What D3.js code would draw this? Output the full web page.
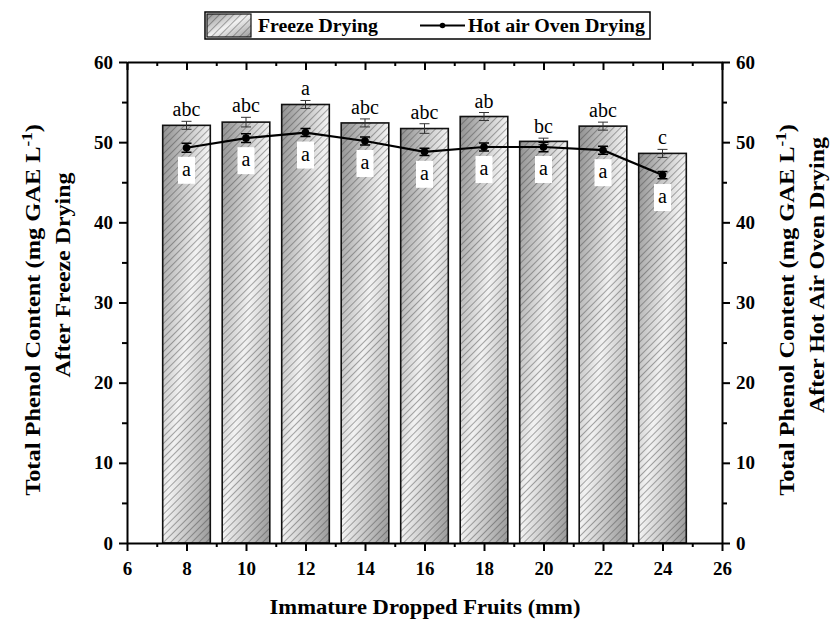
<!DOCTYPE html>
<html>
<head>
<meta charset="utf-8">
<script src="https://cdn.jsdelivr.net/npm/d3@7"></script>
<style>
  body { margin: 0; background: #fff; }
  text { font-family: "Liberation Serif", "Times New Roman", serif; }
</style>
</head>
<body>
<div id="chart"></div>
<script>
// fruit size (mm)
var sizes = [8, 10, 12, 14, 16, 18, 20, 22, 24];
// freeze drying bars
var freezeVals = [52.1, 52.5, 54.7, 52.4, 51.7, 53.2, 50.1, 52.0, 48.6];
var freezeErr = [0.5, 0.6, 0.5, 0.5, 0.6, 0.5, 0.4, 0.5, 0.5];
var freezeLetters = ["abc", "abc", "a", "abc", "abc", "ab", "bc", "abc", "c"];
// hot air oven drying line
var ovenVals = [49.3, 50.5, 51.2, 50.15, 48.8, 49.4, 49.4, 49.0, 45.9];
var ovenErr = [0.55, 0.55, 0.5, 0.5, 0.45, 0.5, 0.6, 0.5, 0.45];
var ovenLetters = ["a", "a", "a", "a", "a", "a", "a", "a", "a"];
var xTicks = [6, 8, 10, 12, 14, 16, 18, 20, 22, 24, 26];
var yTicks = [0, 10, 20, 30, 40, 50, 60];

var W = 832, H = 619;
var margin = { top: 62, right: 110, bottom: 76, left: 127 };
var width = W - margin.left - margin.right,
    height = H - margin.top - margin.bottom;

var svg = d3.select("#chart").append("svg")
    .attr("width", W).attr("height", H);

var defs = svg.append("defs");
var grad = defs.append("linearGradient").attr("id", "barGrad")
    .attr("x1", 0).attr("y1", 0).attr("x2", 1).attr("y2", 1);
grad.append("stop").attr("offset", 0).attr("stop-color", "#909090");
grad.append("stop").attr("offset", 0.5).attr("stop-color", "#f2f2f2");
grad.append("stop").attr("offset", 1).attr("stop-color", "#999");

var hatch = defs.append("pattern").attr("id", "hatch")
    .attr("patternUnits", "userSpaceOnUse")
    .attr("width", 5).attr("height", 5)
    .attr("patternTransform", "rotate(45)");
hatch.append("line").attr("x1", 0).attr("y1", 0).attr("x2", 0).attr("y2", 5)
    .attr("stroke", "#444").attr("stroke-width", 0.9);

var g = svg.append("g").attr("transform", "translate(" + margin.left + "," + margin.top + ")");

var x = d3.scaleLinear().domain([6, 26]).range([0, width]);
var y = d3.scaleLinear().domain([0, 60]).range([height, 0]);
var barW = x(7.6) - x(6);

// stretch a text element along its baseline to a target length
function fit(sel, len) {
    var w = sel.node().getComputedTextLength();
    sel.attr("transform", "scale(" + (len / w) + ",1)");
}

// bars
var bars = g.selectAll(".bar").data(sizes).join("g").attr("class", "bar");
bars.append("rect")
    .attr("x", d => x(d) - barW / 2)
    .attr("y", (d, i) => y(freezeVals[i]))
    .attr("width", barW)
    .attr("height", (d, i) => height - y(freezeVals[i]))
    .attr("fill", "url(#barGrad)");
bars.append("rect")
    .attr("x", d => x(d) - barW / 2)
    .attr("y", (d, i) => y(freezeVals[i]))
    .attr("width", barW)
    .attr("height", (d, i) => height - y(freezeVals[i]))
    .attr("fill", "url(#hatch)")
    .attr("stroke", "#111").attr("stroke-width", 1.6);

// error bars
function errBar(sel, vals, errs, cap, col, sw) {
    sel.append("path")
        .attr("d", (d, i) => {
            var cx = x(d), t = y(vals[i] + errs[i]), b = y(vals[i] - errs[i]);
            return "M" + (cx - cap) + "," + t + "H" + (cx + cap) +
                "M" + cx + "," + t + "V" + b +
                "M" + (cx - cap) + "," + b + "H" + (cx + cap);
        })
        .attr("stroke", col).attr("stroke-width", sw).attr("fill", "none");
}
errBar(bars, freezeVals, freezeErr, 5, "#333", 1);

bars.append("text")
    .attr("x", d => x(d))
    .attr("y", (d, i) => y(freezeVals[i] + freezeErr[i]) - 5)
    .attr("text-anchor", "middle")
    .attr("font-size", 20)
    .text((d, i) => freezeLetters[i]);

// oven line
var line = d3.line().x(d => x(d)).y((d, i) => y(ovenVals[i]));
g.append("path").datum(sizes).attr("d", line)
    .attr("fill", "none").attr("stroke", "#000").attr("stroke-width", 2.2);

var pts = g.selectAll(".pt").data(sizes).join("g").attr("class", "pt");
errBar(pts, ovenVals, ovenErr, 5, "#000", 1.5);
pts.append("circle")
    .attr("cx", d => x(d)).attr("cy", (d, i) => y(ovenVals[i]))
    .attr("r", 3.8).attr("fill", "#000");
pts.append("rect")
    .attr("x", d => x(d) - 8.5)
    .attr("y", (d, i) => y(ovenVals[i]) + 9)
    .attr("width", 17).attr("height", 27)
    .attr("fill", "#fff");
pts.append("text")
    .attr("x", d => x(d))
    .attr("y", (d, i) => y(ovenVals[i]) + 28)
    .attr("text-anchor", "middle")
    .attr("font-size", 20)
    .text((d, i) => ovenLetters[i]);

// axes
var minorX = d3.range(7, 26, 2), minorY = d3.range(5, 60, 10);
function styleAxis(a) {
    a.select(".domain").attr("stroke-width", 2).attr("stroke", "#000");
    a.selectAll(".tick line").attr("stroke-width", 2);
    a.selectAll("text").attr("font-size", 19).attr("font-weight", "bold")
        .attr("font-family", "'Liberation Serif', serif").attr("fill", "#000");
}
function minor(a) {
    a.select(".domain").remove();
    a.selectAll("line").attr("stroke-width", 2);
}
var bx = g.append("g").attr("transform", "translate(0," + height + ")")
    .call(d3.axisBottom(x).tickValues(xTicks).tickSize(8).tickPadding(11).tickSizeOuter(0));
styleAxis(bx);
g.append("g").attr("transform", "translate(0," + height + ")")
    .call(d3.axisBottom(x).tickValues(minorX).tickSize(4).tickFormat("").tickSizeOuter(0))
    .call(minor);

var tx = g.append("g")
    .call(d3.axisTop(x).tickValues(xTicks).tickSize(-8).tickFormat("").tickSizeOuter(0));
styleAxis(tx);
g.append("g")
    .call(d3.axisTop(x).tickValues(minorX).tickSize(-4).tickFormat("").tickSizeOuter(0))
    .call(minor);

var ly = g.append("g")
    .call(d3.axisLeft(y).tickValues(yTicks).tickSize(8).tickPadding(6).tickSizeOuter(0));
styleAxis(ly);
g.append("g")
    .call(d3.axisLeft(y).tickValues(minorY).tickSize(5).tickFormat("").tickSizeOuter(0))
    .call(minor);

var ry = g.append("g").attr("transform", "translate(" + width + ",0)")
    .call(d3.axisRight(y).tickValues(yTicks).tickSize(8).tickPadding(6).tickSizeOuter(0));
styleAxis(ry);
g.append("g").attr("transform", "translate(" + width + ",0)")
    .call(d3.axisRight(y).tickValues(minorY).tickSize(5).tickFormat("").tickSizeOuter(0))
    .call(minor);

// axis titles
function yTitle(cx, line2, len2, c2) {
    var t = svg.append("g").attr("transform", "translate(" + cx + ",310) rotate(-90)");
    var t1 = t.append("text").attr("text-anchor", "middle").attr("y", 0)
        .attr("font-size", 20).attr("font-weight", "bold");
    t1.append("tspan").text("Total Phenol Content (mg GAE L");
    t1.append("tspan").attr("dy", -8).attr("font-size", 14).text("-1");
    t1.append("tspan").attr("dy", 8).text(")");
    fit(t1, 372);
    var t2 = t.append("g").attr("transform", "translate(" + (310 - c2) + ",30)");
    var s2 = t2.append("text").attr("text-anchor", "middle")
        .attr("font-size", 20).attr("font-weight", "bold").text(line2);
    fit(s2, len2);
}
yTitle(40, "After Freeze Drying", 205, 275);
yTitle(794, "After Hot Air Oven Drying", 276, 275);

var xt = svg.append("g").attr("transform", "translate(425,614)");
var xts = xt.append("text").attr("text-anchor", "middle").attr("font-size", 21)
    .attr("font-weight", "bold").text("Immature Dropped Fruits (mm)");
fit(xts, 311);

// legend
var leg = svg.append("g");
leg.append("rect").attr("x", 205).attr("y", 12).attr("width", 445).attr("height", 27)
    .attr("fill", "#fff").attr("stroke", "#000").attr("stroke-width", 1.5);
leg.append("rect").attr("x", 207).attr("y", 14).attr("width", 44).attr("height", 23)
    .attr("fill", "url(#barGrad)");
leg.append("rect").attr("x", 207).attr("y", 14).attr("width", 44).attr("height", 23)
    .attr("fill", "url(#hatch)").attr("stroke", "#111").attr("stroke-width", 1.2);
var l1 = leg.append("g").attr("transform", "translate(258,32)");
fit(l1.append("text").attr("font-size", 19.5).attr("font-weight", "bold").text("Freeze Drying"), 120);
leg.append("line").attr("x1", 420).attr("x2", 465).attr("y1", 25.5).attr("y2", 25.5)
    .attr("stroke", "#000").attr("stroke-width", 2);
leg.append("circle").attr("cx", 442.5).attr("cy", 25.5).attr("r", 2.8).attr("fill", "#000");
var l2 = leg.append("g").attr("transform", "translate(468,32)");
fit(l2.append("text").attr("font-size", 19.5).attr("font-weight", "bold").text("Hot air Oven Drying"), 177);
</script>
</body>
</html>
